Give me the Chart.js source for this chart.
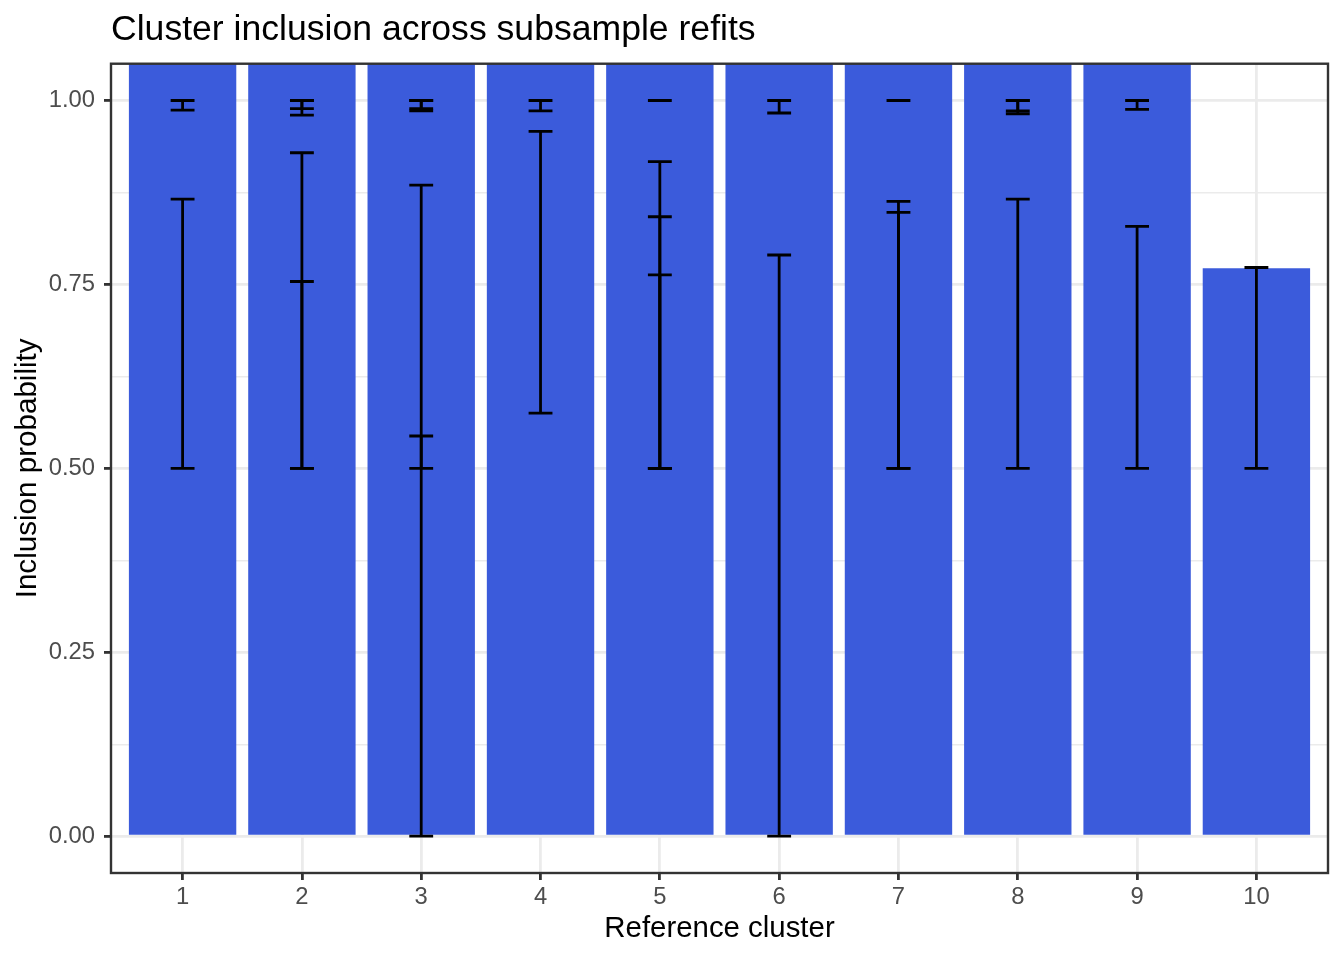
<!DOCTYPE html>
<html>
<head>
<meta charset="utf-8">
<title>Cluster inclusion across subsample refits</title>
<script src="https://cdn.jsdelivr.net/npm/chart.js@4.4.1/dist/chart.umd.min.js"></script>
<style>
  html, body { margin: 0; padding: 0; background: #fff; }
  #wrap { width: 1344px; height: 960px; }
</style>
</head>
<body>
<div id="wrap"><canvas id="chart" width="1344" height="960"></canvas></div>
<script>
// reference clusters and their bar heights (bars 1-9 run past the top of the panel)
const clusters = [1, 2, 3, 4, 5, 6, 7, 8, 9, 10];
const barValues = [1.1, 1.1, 1.1, 1.1, 1.1, 1.1, 1.1, 1.1, 1.1, 0.772];

// error bars: one entry per interval
const errCluster = [1, 1, 2, 2, 2, 2, 3, 3, 3, 3, 4, 4, 5, 5, 5, 5, 6, 6, 7, 7, 7, 8, 8, 8, 9, 9, 10];
const errLow  = [0.987, 0.5, 0.980, 0.989, 0.5, 0.5, 0.986, 0.989, 0.0, 0.5, 0.986, 0.575, 1.0, 0.5, 0.5, 0.5, 0.983, 0.0, 1.0, 0.5, 0.5, 0.986, 0.982, 0.5, 0.988, 0.5, 0.5];
const errHigh = [1.0, 0.866, 1.0, 1.0, 0.929, 0.754, 1.0, 1.0, 0.885, 0.544, 1.0, 0.958, 1.0, 0.917, 0.842, 0.763, 1.0, 0.790, 1.0, 0.863, 0.848, 1.0, 1.0, 0.866, 1.0, 0.829, 0.773];

// y axis ticks
const yMajor = [0, 0.25, 0.5, 0.75, 1.0];
const yMajorLabels = ['0.00', '0.25', '0.50', '0.75', '1.00'];
const yMinor = [0.125, 0.375, 0.625, 0.875];

const FONT = '"Liberation Sans", Arial, Helvetica, sans-serif';
const GRID = '#EBEBEB';
const DARK = '#333333';

const isMajor = v => yMajor.some(m => Math.abs(m - v) < 1e-9);

// draws the error bars through the chart scales
const errorBars = {
    id: 'errorBars',
    afterDatasetsDraw(chart) {
        const { ctx, chartArea, scales: { x, y } } = chart;
        const half = 0.1; // cap half width in cluster units
        ctx.save();
        ctx.beginPath();
        ctx.rect(chartArea.left, chartArea.top, chartArea.width, chartArea.height);
        ctx.clip();
        ctx.strokeStyle = '#000';
        ctx.lineWidth = 2.8;
        ctx.lineCap = 'butt';
        errCluster.forEach((c, i) => {
            const xc = x.getPixelForValue(c);
            const x0 = x.getPixelForValue(c - half);
            const x1 = x.getPixelForValue(c + half);
            const yl = y.getPixelForValue(errLow[i]);
            const yh = y.getPixelForValue(errHigh[i]);
            ctx.beginPath();
            ctx.moveTo(xc, yl); ctx.lineTo(xc, yh);
            ctx.moveTo(x0, yl); ctx.lineTo(x1, yl);
            ctx.moveTo(x0, yh); ctx.lineTo(x1, yh);
            ctx.stroke();
        });
        ctx.restore();
    }
};

// panel border on all four sides, on top like ggplot
const panelBorder = {
    id: 'panelBorder',
    afterDraw(chart) {
        const { ctx, chartArea } = chart;
        ctx.save();
        ctx.strokeStyle = DARK;
        ctx.lineWidth = 2.4;
        ctx.strokeRect(chartArea.left, chartArea.top, chartArea.width, chartArea.height);
        ctx.restore();
    }
};

new Chart(document.getElementById('chart'), {
    type: 'bar',
    data: {
        datasets: [{
            data: clusters.map((c, i) => ({ x: c, y: barValues[i] })),
            backgroundColor: '#3B5BDB',
            borderWidth: 0,
            barPercentage: 0.9,
            categoryPercentage: 1.0,
            clip: 0
        }]
    },
    options: {
        responsive: false,
        animation: false,
        devicePixelRatio: 1,
        layout: { padding: { top: 0, right: 16, bottom: 0, left: 0 } },
        plugins: {
            legend: { display: false },
            tooltip: { enabled: false },
            title: {
                display: true,
                text: 'Cluster inclusion across subsample refits',
                align: 'start',
                fullSize: false,
                color: '#000',
                font: { family: FONT, size: 35.6, weight: 'normal' },
                padding: { top: 9, bottom: 12 }
            }
        },
        scales: {
            x: {
                type: 'linear',
                min: 0.4,
                max: 10.6,
                offset: false,
                afterBuildTicks: s => { s.ticks = clusters.map(v => ({ value: v })); },
                afterFit: s => { s.height = 87; },
                border: { display: false },
                grid: {
                    offset: false,
                    color: GRID,
                    lineWidth: 2.8,
                    drawTicks: true,
                    tickLength: 7,
                    tickColor: DARK,
                    tickWidth: 2.8
                },
                ticks: {
                    color: '#4D4D4D',
                    font: { family: FONT, size: 23.8 },
                    padding: 3,
                    maxRotation: 0,
                    callback: v => String(v)
                },
                title: {
                    display: true,
                    text: 'Reference cluster',
                    color: '#000',
                    font: { family: FONT, size: 29.4 },
                    padding: { top: 0, bottom: 13 }
                }
            },
            y: {
                min: -0.05,
                max: 1.05,
                afterBuildTicks: s => {
                    s.ticks = yMajor.concat(yMinor).sort((a, b) => a - b).map(v => ({ value: v }));
                },
                afterFit: s => { s.width = 111; },
                border: { display: false },
                grid: {
                    color: GRID,
                    lineWidth: ctx => isMajor(ctx.tick.value) ? 2.8 : 1.4,
                    drawTicks: true,
                    tickLength: 7,
                    tickColor: ctx => isMajor(ctx.tick.value) ? DARK : 'rgba(0,0,0,0)',
                    tickWidth: 2.8
                },
                ticks: {
                    color: '#4D4D4D',
                    font: { family: FONT, size: 23.8 },
                    padding: 9,
                    callback: v => {
                        const k = yMajor.findIndex(m => Math.abs(m - v) < 1e-9);
                        return k >= 0 ? yMajorLabels[k] : '';
                    }
                },
                title: {
                    display: true,
                    text: 'Inclusion probability',
                    color: '#000',
                    font: { family: FONT, size: 29.6 },
                    padding: { top: 10, bottom: 0 }
                }
            }
        }
    },
    plugins: [errorBars, panelBorder]
});
</script>
</body>
</html>
